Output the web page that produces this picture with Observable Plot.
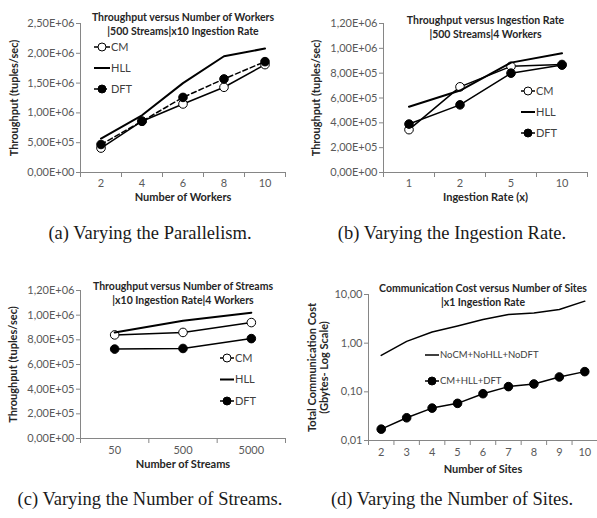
<!DOCTYPE html>
<html><head><meta charset="utf-8">
<script src="https://cdn.jsdelivr.net/npm/d3@7"></script>
<script src="https://cdn.jsdelivr.net/npm/@observablehq/plot@0.6"></script>
<style>
body{margin:0;background:#fff;}
#root{position:relative;width:597px;height:518px;overflow:hidden;font-family:Lato,sans-serif;}
.panel{position:absolute;}
.cap{position:absolute;font-family:"Liberation Serif",serif;font-size:18.5px;color:#1a1a1a;white-space:nowrap;transform:translate(-50%,-50%);}
</style></head><body><div id="root"></div><script>
// ---- data ----
const workers = ["2", "4", "6", "8", "10"];
const workersCM = [4.1e5, 8.6e5, 1.15e6, 1.43e6, 1.81e6];
const workersHLL = [5.7e5, 9.6e5, 1.5e6, 1.95e6, 2.08e6];
const workersDFT = [4.7e5, 8.6e5, 1.26e6, 1.57e6, 1.86e6];

const rates = ["1", "2", "5", "10"];
const ratesCM = [3.45e5, 6.9e5, 8.55e5, 8.7e5];
const ratesHLL = [5.3e5, 6.6e5, 8.85e5, 9.6e5];
const ratesDFT = [3.9e5, 5.45e5, 8.0e5, 8.65e5];

const streams = ["50", "500", "5000"];
const streamsCM = [8.4e5, 8.6e5, 9.4e5];
const streamsHLL = [8.6e5, 9.55e5, 1.02e6];
const streamsDFT = [7.25e5, 7.3e5, 8.1e5];

const sites = ["2", "3", "4", "5", "6", "7", "8", "9", "10"];
const sitesNoSketch = [0.56, 1.09, 1.70, 2.26, 3.06, 3.87, 4.19, 4.91, 7.3];
const sitesSketch = [0.0171, 0.0293, 0.0463, 0.058, 0.0916, 0.128, 0.145, 0.202, 0.26];

const throughputTicksA = [0, 5e5, 1e6, 1.5e6, 2e6, 2.5e6];
const throughputTicksB = [0, 2e5, 4e5, 6e5, 8e5, 1e6, 1.2e6];
const costTicks = [0.01, 0.1, 1, 10];

const captions = ["(a)  Varying the Parallelism.", "(b)  Varying the Ingestion Rate.",
                  "(c)  Varying the Number of Streams.", "(d)  Varying the Number of Sites."];

// ---- styles ----
const AX = "#868686", TICK = "#595959", TITLE = "#262626", LEG = "#404040";
const sciFmt = v => {
  const [m, e] = v.toExponential(2).split("e");
  const ex = +e;
  return m.replace(".", ",") + "E" + (ex < 0 ? "-" : "+") + String(Math.abs(ex)).padStart(2, "0");
};
const decFmt = v => v.toFixed(2).replace(".", ",");

function legendMark(items, ml, mt, leg) {
  const [lx, ly, gap, lineLen, fs] = leg;
  return () => {
    const g = d3.create("svg:g");
    items.forEach((it, k) => {
      const y = mt + ly + k * gap, x = ml + lx;
      g.append("line").attr("x1", x).attr("x2", x + lineLen).attr("y1", y).attr("y2", y)
        .attr("stroke", "#000").attr("stroke-width", it.sw)
        .attr("stroke-dasharray", it.dash || null);
      if (it.marker) {
        g.append("circle").attr("cx", x + lineLen / 2).attr("cy", y).attr("r", 4)
          .attr("fill", it.marker === "open" ? "#fff" : "#000").attr("stroke", "#000").attr("stroke-width", 1);
      }
      g.append("text").attr("x", x + lineLen + 1).attr("y", y).attr("dy", "0.35em")
        .attr("text-anchor", "start")
        .attr("font-size", fs).attr("fill", LEG).text(it.name);
    });
    return g.node();
  };
}

function makePanel(p) {
  const n = p.cats.length;
  const marks = [];
  marks.push(Plot.ruleX([-0.5], {stroke: AX}));
  marks.push(Plot.ruleY([p.yDomain[0]], {stroke: AX}));
  marks.push(Plot.axisY({ticks: p.yTicks, tickFormat: p.yFormat, tickSize: 4, tickPadding: 2,
    fontSize: 11, stroke: AX, fill: TICK, label: null}));
  marks.push(Plot.axisX({ticks: d3.range(n), tickFormat: i => p.cats[i], tickSize: 0,
    tickPadding: p.xPad, fontSize: 11, fill: TICK, label: null}));
  marks.push(Plot.axisX({ticks: d3.range(n + 1).map(i => i - 0.5), tickFormat: () => "",
    tickSize: 5, stroke: AX, label: null}));
  for (const s of p.series) {
    const rows = s.values.map((v, i) => ({i, v}));
    marks.push(Plot.line(rows, {x: "i", y: "v", stroke: "#000", strokeWidth: s.sw,
      strokeDasharray: s.dash}));
    if (s.marker) {
      marks.push(Plot.dot(rows, {x: "i", y: "v", r: 4.3, stroke: "#000", strokeWidth: 1,
        fill: s.marker === "open" ? "#fff" : "#000"}));
    }
  }
  marks.push(Plot.text([p.title], {text: d => d, frameAnchor: "top", dy: p.titleDy, lineAnchor: "top",
    lineHeight: 1.35, fontSize: 10.5, fontWeight: "bold", fill: TITLE}));
  marks.push(Plot.text([p.xLabel], {text: d => d, frameAnchor: "bottom", dy: p.xLabelDy, lineAnchor: "middle",
    fontSize: 11, fontWeight: "bold", fill: TITLE}));
  marks.push(Plot.text([p.yLabel], {text: d => d, frameAnchor: "left", dx: -p.yLabelOffset, rotate: -90,
    textAnchor: "middle", lineAnchor: "middle", lineHeight: 1.05, fontSize: 11, fontWeight: "bold", fill: TITLE}));
  marks.push(legendMark(p.series, p.ml, p.mt, p.leg));

  const svg = Plot.plot({
    width: p.width, height: p.height,
    marginLeft: p.ml, marginRight: p.mr, marginTop: p.mt, marginBottom: p.mb,
    x: {type: "linear", domain: [-0.5, n - 0.5]},
    y: {type: p.yType || "linear", domain: p.yDomain},
    style: {fontFamily: "Lato, sans-serif", background: "transparent", overflow: "visible"},
    marks
  });
  const div = document.createElement("div");
  div.className = "panel";
  div.style.left = p.left + "px";
  div.style.top = p.top + "px";
  div.appendChild(svg);
  return div;
}

const tpSeries = (cm, hll, dft, dftDash) => [
  {name: "CM", values: cm, sw: 1.5, marker: "open"},
  {name: "HLL", values: hll, sw: 2},
  {name: "DFT", values: dft, sw: 1.5, marker: "filled", dash: dftDash}
];

const panels = [
  {left: 0, top: 0, width: 297, height: 215, ml: 80, mr: 12, mt: 23, mb: 43,
   cats: workers, series: tpSeries(workersCM, workersHLL, workersDFT, "5,3"),
   yDomain: [0, 2.5e6], yTicks: throughputTicksA, yFormat: sciFmt,
   title: "Throughput versus Number of Workers\n|500 Streams|x10 Ingestion Rate", titleDy: -13,
   xLabel: "Number of Workers", xPad: 7, xLabelDy: 25,
   yLabel: "Throughput (tuples/sec)", yLabelOffset: 66, leg: [14, 24, 21, 16, 11]},
  {left: 297, top: 0, width: 300, height: 215, ml: 86, mr: 10, mt: 23, mb: 43,
   cats: rates, series: tpSeries(ratesCM, ratesHLL, ratesDFT, null),
   yDomain: [0, 1.2e6], yTicks: throughputTicksB, yFormat: sciFmt,
   title: "Throughput versus Ingestion Rate\n|500 Streams|4 Workers", titleDy: -10,
   xLabel: "Ingestion Rate (x)", xPad: 7, xLabelDy: 25,
   yLabel: "Throughput (tuples/sec)", yLabelOffset: 67, leg: [138, 68, 21, 14, 11]},
  {left: 0, top: 255, width: 297, height: 215, ml: 80, mr: 12, mt: 35, mb: 32,
   cats: streams, series: tpSeries(streamsCM, streamsHLL, streamsDFT, null),
   yDomain: [0, 1.2e6], yTicks: throughputTicksB, yFormat: sciFmt,
   title: "Throughput versus Number of Streams\n|x10 Ingestion Rate|4 Workers", titleDy: -11,
   xLabel: "Number of Streams", xPad: 8, xLabelDy: 26,
   yLabel: "Throughput (tuples/sec)", yLabelOffset: 67, leg: [140, 68, 21.5, 14, 11]},
  {left: 297, top: 255, width: 300, height: 215, ml: 71, mr: 0, mt: 39, mb: 30,
   cats: sites,
   series: [
     {name: "NoCM+NoHLL+NoDFT", values: sitesNoSketch, sw: 1.5},
     {name: "CM+HLL+DFT", values: sitesSketch, sw: 1.5, marker: "filled"}
   ],
   yType: "log", yDomain: [0.01, 10], yTicks: costTicks, yFormat: decFmt,
   title: "Communication Cost versus Number of Sites\n|x1 Ingestion Rate", titleDy: -13,
   xLabel: "Number of Sites", xPad: 8, xLabelDy: 29,
   yLabel: "Total Communication Cost\n(Gbytes- Log Scale)", yLabelOffset: 50, leg: [57, 61, 26, 14, 9.5]}
];

const root = document.getElementById("root");
panels.forEach(p => root.appendChild(makePanel(p)));
const capPos = [[150, 233], [452, 233], [150, 499], [452, 499]];
captions.forEach((c, i) => {
  const d = document.createElement("div");
  d.className = "cap";
  d.textContent = c;
  d.style.left = capPos[i][0] + "px";
  d.style.top = capPos[i][1] + "px";
  root.appendChild(d);
});
</script></body></html>
